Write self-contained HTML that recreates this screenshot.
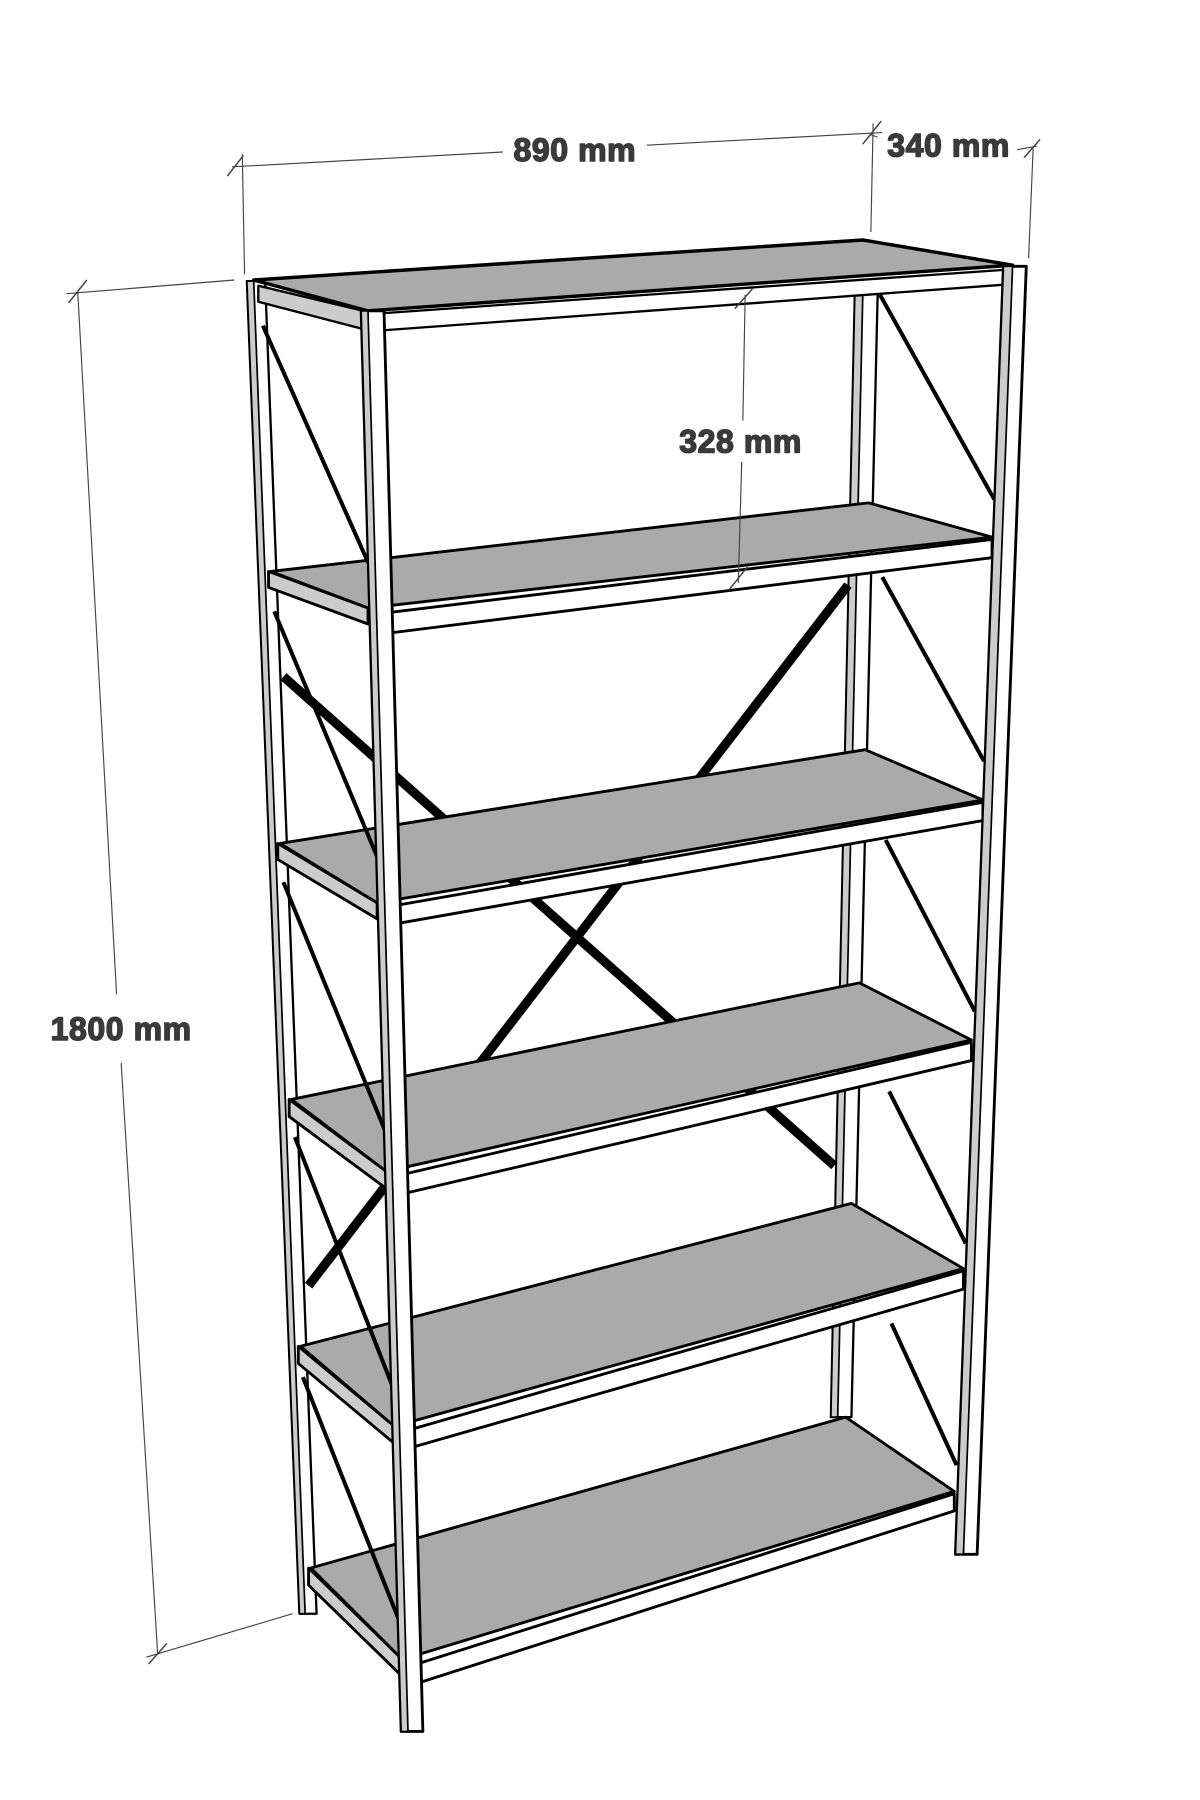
<!DOCTYPE html>
<html><head><meta charset="utf-8"><style>html,body{margin:0;padding:0;background:#fff}svg{display:block}</style></head>
<body>
<svg width="1200" height="1800" viewBox="0 0 1050 1575" preserveAspectRatio="none" xmlns="http://www.w3.org/2000/svg">
<g stroke="#000" stroke-linejoin="round">
<!-- dimension lines -->
<g stroke="#444" stroke-width="1" fill="none">
<line x1="203" y1="146" x2="440" y2="133"/><line x1="566" y1="127" x2="772" y2="116"/>
<line x1="212" y1="135" x2="214" y2="240"/>
<line x1="764" y1="108" x2="762" y2="203"/>
<line x1="762" y1="118" x2="768" y2="120"/>
<line x1="890" y1="131" x2="907" y2="128"/>
<line x1="904" y1="130" x2="900" y2="226"/>
<line x1="58" y1="257" x2="205" y2="245"/>
<line x1="68" y1="255" x2="102" y2="870"/><line x1="106" y1="930" x2="138" y2="1448"/>
<line x1="128" y1="1450" x2="256" y2="1412"/>
<g stroke-width="1.3">
<line x1="199" y1="154" x2="213" y2="136"/><line x1="755" y1="126" x2="771" y2="106"/>
<line x1="896" y1="138" x2="910" y2="122"/><line x1="60" y1="265" x2="76" y2="245"/>
<line x1="130" y1="1456" x2="146" y2="1438"/>
</g></g>

<!-- back right leg -->
<polygon points="748,255 768,255 745,1240 727,1240" fill="#fff" stroke-width="2"/>
<polygon points="748,255 755,255 733,1240 727,1240" fill="#ccc" stroke-width="1.5"/>
<!-- back X braces -->
<g stroke-width="8" stroke-linecap="butt">
<line x1="248" y1="592" x2="730" y2="1020"/>
<line x1="742" y1="512" x2="270" y2="1125"/>
</g>
<!-- right side braces -->
<g stroke-width="3.5">
<line x1="770" y1="258" x2="870" y2="437"/>
<line x1="772" y1="505" x2="861" y2="666"/>
<line x1="775" y1="735" x2="853" y2="885"/>
<line x1="778" y1="955" x2="845" y2="1088"/>
<line x1="780" y1="1158" x2="837" y2="1282"/>
</g>
<!-- back left leg -->
<polygon points="216,246 232,246 277,1412 262,1412" fill="#fff" stroke-width="2"/>
<polygon points="216,246 222,246 267,1412 262,1412" fill="#ccc" stroke-width="1.5"/>

<!-- top shelf -->
<polygon points="222,245 755,210 886,232 322,272" fill="#aaa" stroke-width="3"/>
<polygon points="336,274 880,236 880,249 336,289" fill="#fff" stroke-width="2"/>
<polygon points="226,250 318,272 318,288 226,264" fill="#ccc" stroke-width="2"/>

<!-- shelves -->
<g stroke-width="2.5">
<polygon points="237,500 760,440 868,470 322,532" fill="#aaa"/>
<polygon points="340,536 868,472 868,488 340,554" fill="#fff"/>
<polygon points="235,500 322,532 322,546 235,514" fill="#ccc"/>

<polygon points="245,738 757,656 860,700 330,790" fill="#aaa"/>
<polygon points="348,792 860,702 860,718 348,808" fill="#fff"/>
<polygon points="243,738 330,790 330,804 243,752" fill="#ccc"/>

<polygon points="255,962 752,860 850,910 338,1025" fill="#aaa"/>
<polygon points="355,1027 850,912 850,928 355,1044" fill="#fff"/>
<polygon points="253,962 338,1025 338,1040 253,977" fill="#ccc"/>

<polygon points="263,1178 745,1053 843,1110 345,1248" fill="#aaa"/>
<polygon points="362,1250 843,1112 843,1128 362,1266" fill="#fff"/>
<polygon points="261,1178 345,1248 345,1263 261,1193" fill="#ccc"/>

<polygon points="272,1372 740,1240 835,1305 352,1452" fill="#aaa"/>
<polygon points="368,1455 835,1307 835,1322 368,1472" fill="#fff"/>
<polygon points="270,1372 352,1452 352,1467 270,1387" fill="#ccc"/>
</g>
<!-- left side braces -->
<g stroke-width="3.5">
<line x1="230" y1="285" x2="322" y2="492"/>
<line x1="240" y1="535" x2="331" y2="752"/>
<line x1="248" y1="772" x2="338" y2="992"/>
<line x1="258" y1="995" x2="345" y2="1217"/>
<line x1="265" y1="1205" x2="352" y2="1425"/>
</g>
<!-- front right leg -->
<polygon points="878,233 898,233 855,1360 836,1360" fill="#fff" stroke-width="2.5"/>
<polygon points="878,233 886,233 843,1360 836,1360" fill="#ccc" stroke-width="1.5"/>
<!-- front left leg -->
<polygon points="316,272 336,272 370,1515 351,1515" fill="#fff" stroke-width="2.5"/>
<polygon points="316,272 322,272 357,1515 351,1515" fill="#ccc" stroke-width="1.5"/>

<!-- 328 dimension on top -->
<g stroke="#444" stroke-width="1" fill="none">
<line x1="652" y1="258" x2="650" y2="368"/><line x1="649" y1="404" x2="646" y2="510"/>
<line x1="643" y1="270" x2="659" y2="252" stroke-width="1.3"/>
<line x1="638" y1="516" x2="654" y2="496" stroke-width="1.3"/>
</g>
<g font-family="Liberation Sans, sans-serif" font-weight="bold" font-size="28" fill="#3a3a3a" stroke="#3a3a3a" stroke-width="1.3" text-anchor="middle" letter-spacing="0.5">
<text x="503" y="141">890 mm</text><text x="830" y="137">340 mm</text>
<text x="106" y="910">1800 mm</text><text x="648" y="396">328 mm</text>
</g>
</g>
</svg>
</body></html>
